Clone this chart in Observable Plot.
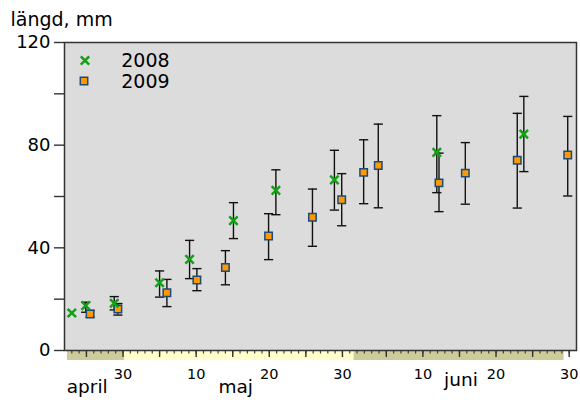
<!DOCTYPE html>
<html>
<head>
<meta charset="utf-8">
<script src="https://cdn.jsdelivr.net/npm/d3@7"></script>
<script src="https://cdn.jsdelivr.net/npm/@observablehq/plot@0.6"></script>
<style>
  body { margin: 0; background: #fff; }
</style>
</head>
<body>
<div id="chart"></div>
<script>
// x values: day of season (April d = d, May d = 30 + d, June d = 61 + d)
const day2008  = [23.0, 24.9, 28.8, 35.0, 39.1, 45.1, 50.9, 58.9, 72.9, 84.8];
const mean2008 = [14.6, 17.5, 18.4, 26.4, 35.5, 50.6, 62.4, 66.5, 77.2, 84.3];
const lo2008   = [null, 14.9, 15.8, 20.8, 28.0, 43.6, 52.9, 54.7, 61.5, 69.7];
const hi2008   = [null, 18.8, 21.0, 31.0, 42.9, 57.6, 70.4, 78.0, 91.5, 99.0];

const day2009  = [25.5, 29.3, 36.0, 40.1, 44.0, 49.9, 55.9, 59.9, 62.9, 64.9, 73.2, 76.8, 83.9, 90.8];
const mean2009 = [14.2, 16.2, 22.5, 27.5, 32.3, 44.6, 51.9, 58.7, 69.4, 72.1, 65.3, 69.1, 74.1, 76.2];
const lo2009   = [13.0, 13.8, 17.1, 23.3, 25.6, 35.4, 40.6, 48.6, 57.2, 55.6, 54.1, 57.0, 55.5, 60.2];
const hi2009   = [15.6, 18.3, 27.7, 31.9, 38.9, 53.3, 62.9, 68.9, 82.1, 88.2, 76.9, 81.0, 92.4, 91.2];

const seriesNames = ["2008", "2009"];

const monthNames = ["april", "maj", "juni"];
const monthOffset = [0, 30, 61];       // day-of-season of day 0 in each month
const monthDays = [30, 31, 30];
const monthBandStart = [22.4, 30.2, 61.6];
const monthBandEnd = [30.2, 61.6, 90.3];
const monthLabelAt = [25.1, 45.4, 76.2];
const monthFill = ["#cdcb99", "#ffffcc", "#cdcb99"];

const xTickDays = [30, 40, 50, 60, 71, 81, 91];
const xTickLabels = ["30", "10", "20", "30", "10", "20", "30"];

const yTicks = [0, 20, 40, 60, 80, 100, 120];
const yLabelTicks = [0, 40, 80, 120];
const yTickLabels = ["0", "40", "80", "120"];
const yTitle = "längd, mm";

// tables built from arrays
const toRows = (days, means, los, his) =>
  days.map((d, i) => ({day: d, mean: means[i], lo: los[i], hi: his[i]}));
const rows2008 = toRows(day2008, mean2008, lo2008, hi2008);
const rows2009 = toRows(day2009, mean2009, lo2009, hi2009);
const errRows = [...rows2008, ...rows2009].filter(d => d.lo != null && d.hi != null);
const capRows = errRows.flatMap(d => [{day: d.day, v: d.lo}, {day: d.day, v: d.hi}]);

const months = monthNames.map((m, i) => ({
  name: m, start: monthBandStart[i], end: monthBandEnd[i], mid: monthLabelAt[i], fill: monthFill[i]
}));

const yLabels = yLabelTicks.map((v, i) => ({v, label: yTickLabels[i]}));

// daily ticks from month definitions (first visible day 23 of April)
const allDays = [];
const fiveDays = [];
monthNames.forEach((m, i) => {
  for (let d = 1; d <= monthDays[i]; d++) {
    const t = monthOffset[i] + d;
    if (t < 23 || t > 91) continue;
    allDays.push(t);
    if (d % 5 === 0) fiveDays.push(t);
  }
});

const xLabelMap = new Map(xTickDays.map((d, i) => [d, xTickLabels[i]]));

const capSymbol = {
  draw(context, size) {
    const r = Math.sqrt(size / Math.PI);
    context.moveTo(-r, 0);
    context.lineTo(r, 0);
  }
};

const green = "#14a014";
const orange = "#ff9900";
const navy = "#1d4a78";

const chart = Plot.plot({
  width: 580,
  height: 400,
  marginLeft: 64,
  marginRight: 4,
  marginTop: 42,
  marginBottom: 50,
  style: {fontFamily: "DejaVu Sans", fontSize: "18px", color: "#000", background: "#fff"},
  x: {domain: [22, 92]},
  y: {domain: [0, 120]},
  color: {type: "identity"},
  marks: [
    Plot.frame({fill: "#dcdcdc", stroke: null}),
    Plot.rect(months, {x1: "start", x2: "end", y1: () => 0, y2: () => 0, insetBottom: -10, fill: d => d.fill}),
    Plot.axisX({ticks: allDays, tickSize: 3.5, tickFormat: () => "", stroke: "#444", strokeWidth: 1.2, label: null}),
    Plot.axisX({ticks: fiveDays, tickSize: 7, tickFormat: () => "", stroke: "#333", strokeWidth: 1.4, label: null}),
    Plot.text(xTickDays, {x: d => d, text: d => xLabelMap.get(d), frameAnchor: "bottom", lineAnchor: "middle", dy: 24, fontSize: 14.5}),
    Plot.text(months.slice(0, 2), {x: "mid", text: "name", frameAnchor: "bottom", lineAnchor: "middle", dy: 37, fontSize: 18.5}),
    Plot.text(months.slice(2), {x: "mid", text: "name", frameAnchor: "bottom", lineAnchor: "middle", dy: 30, fontSize: 18.5}),
    Plot.axisY({ticks: yTicks, tickSize: 10, tickFormat: () => "", stroke: "#333", strokeWidth: 1.4, label: null}),
    Plot.text(yLabels, {y: "v", text: "label", frameAnchor: "left", lineAnchor: "middle", dx: -14, textAnchor: "end", fontSize: 18}),
    Plot.text([yTitle], {text: d => d, frameAnchor: "top-left", lineAnchor: "middle", dx: -54, dy: -23, textAnchor: "start", fontSize: 19}),
    Plot.ruleX(errRows, {x: "day", y1: "lo", y2: "hi", stroke: "#111", strokeWidth: 1.4}),
    Plot.dot(capRows, {x: "day", y: "v", symbol: capSymbol, r: 4.6, fill: "none", stroke: "#111", strokeWidth: 1.4}),
    Plot.dot(rows2009, {x: "day", y: "mean", symbol: "square", r: 4.2, fill: orange, stroke: navy, strokeWidth: 1.5}),
    Plot.dot(rows2008, {x: "day", y: "mean", symbol: "times", r: 3.9, stroke: green, strokeWidth: 2.5}),
    Plot.frame({stroke: "#333", strokeWidth: 1.5}),
    // legend
    Plot.dot([seriesNames[0]], {frameAnchor: "top-left", dx: 20.5, dy: 18, symbol: "times", r: 3.9, stroke: green, strokeWidth: 2.5}),
    Plot.dot([seriesNames[1]], {frameAnchor: "top-left", dx: 19.5, dy: 38.5, symbol: "square", r: 4.2, fill: orange, stroke: navy, strokeWidth: 1.5}),
    Plot.text([seriesNames[0]], {text: d => d, frameAnchor: "top-left", lineAnchor: "middle", dx: 56.7, dy: 18, textAnchor: "start", fontSize: 19}),
    Plot.text([seriesNames[1]], {text: d => d, frameAnchor: "top-left", lineAnchor: "middle", dx: 56.7, dy: 39, textAnchor: "start", fontSize: 19})
  ]
});
document.getElementById("chart").appendChild(chart);
</script>
</body>
</html>
